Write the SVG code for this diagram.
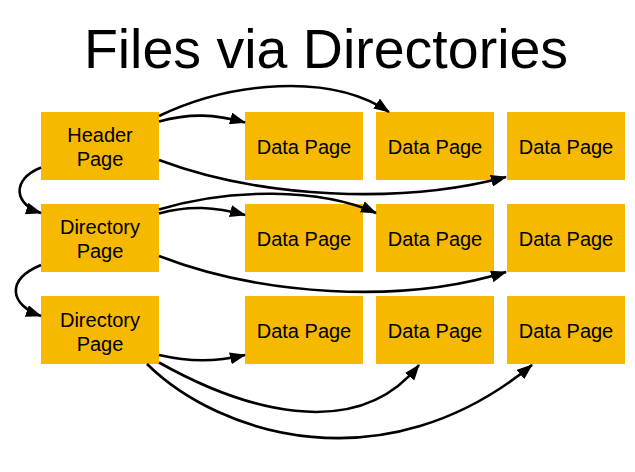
<svg xmlns="http://www.w3.org/2000/svg" width="635" height="472" viewBox="0 0 635 472">
  <style>
    .box { fill: #F6B900; }
    .lbl { font-family: "Liberation Sans", Arial, sans-serif; font-size: 20px; fill: #000; text-anchor: middle; }
    .title { font-family: "Liberation Sans", Arial, sans-serif; font-size: 55.5px; fill: #000; text-anchor: middle; }
    .conn { fill: none; stroke: #000; stroke-width: 2.6; marker-end: url(#ah); }
  </style>
  <defs>
    <marker id="ah" viewBox="0 0 16 12" refX="15" refY="6" markerWidth="16" markerHeight="12" markerUnits="userSpaceOnUse" orient="auto">
      <path d="M0,0 L16,6 L0,12 z" fill="#000"/>
    </marker>
  </defs>
  <rect width="635" height="472" fill="#fff"/>
  <text class="title" x="326" y="68">Files via Directories</text>

  <g id="header">
    <rect class="box" x="41" y="112" width="118" height="68"/>
    <text class="lbl" x="100" y="142">Header</text>
    <text class="lbl" x="100" y="166">Page</text>
  </g>
  <g id="dir1">
    <rect class="box" x="41" y="204" width="118" height="68"/>
    <text class="lbl" x="100" y="234">Directory</text>
    <text class="lbl" x="100" y="258">Page</text>
  </g>
  <g id="dir2">
    <rect class="box" x="41" y="296" width="118" height="68"/>
    <text class="lbl" x="100" y="326.5">Directory</text>
    <text class="lbl" x="100" y="351">Page</text>
  </g>

  <g id="d11"><rect class="box" x="245" y="112" width="118" height="68"/><text class="lbl" x="304" y="154.3">Data Page</text></g>
  <g id="d12"><rect class="box" x="376" y="112" width="118" height="68"/><text class="lbl" x="435" y="154.3">Data Page</text></g>
  <g id="d13"><rect class="box" x="507" y="112" width="118" height="68"/><text class="lbl" x="566" y="154.3">Data Page</text></g>
  <g id="d21"><rect class="box" x="245" y="204" width="118" height="68"/><text class="lbl" x="304" y="246.3">Data Page</text></g>
  <g id="d22"><rect class="box" x="376" y="204" width="118" height="68"/><text class="lbl" x="435" y="246.3">Data Page</text></g>
  <g id="d23"><rect class="box" x="507" y="204" width="118" height="68"/><text class="lbl" x="566" y="246.3">Data Page</text></g>
  <g id="d31"><rect class="box" x="245" y="296" width="118" height="68"/><text class="lbl" x="304" y="338.3">Data Page</text></g>
  <g id="d32"><rect class="box" x="376" y="296" width="118" height="68"/><text class="lbl" x="435" y="338.3">Data Page</text></g>
  <g id="d33"><rect class="box" x="507" y="296" width="118" height="68"/><text class="lbl" x="566" y="338.3">Data Page</text></g>

  <g id="connectors">
    <path class="conn" d="M159,121.5 C190,113 215,114 245,122.5"/>
    <path class="conn" d="M159,116 C230,82 330,72 389,112"/>
    <path class="conn" d="M159,160 C260,198 400,205 506,177"/>
    <path class="conn" d="M41,167.5 C10,180 15,205 41,213"/>
    <path class="conn" d="M159,213.5 C190,205 215,207 245,215"/>
    <path class="conn" d="M159,209.5 C230,188 320,188 376,213"/>
    <path class="conn" d="M159,256 C260,295 400,305 506,272"/>
    <path class="conn" d="M41,265 C5,280 10,305 41,316"/>
    <path class="conn" d="M159,355 C190,362 215,362 245,355"/>
    <path class="conn" d="M159,362.5 C240,408 355,445 419,365"/>
    <path class="conn" d="M147,364 C220,436 385,486 532,365"/>
  </g>
</svg>
